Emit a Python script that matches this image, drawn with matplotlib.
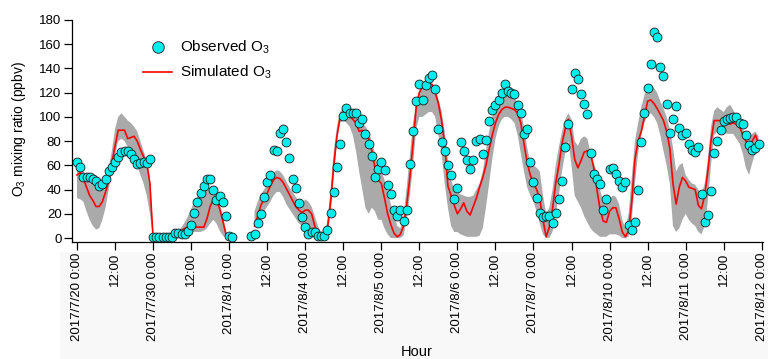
import numpy as np
import matplotlib
matplotlib.use("Agg")
import matplotlib.pyplot as plt
from matplotlib.patches import Rectangle

plt.rcParams['font.family'] = ['Liberation Sans', 'DejaVu Sans']
plt.rcParams['mathtext.default'] = 'regular'

nan = np.nan
days = ['2017/7/20', '2017/7/30', '2017/8/1', '2017/8/4', '2017/8/5',
        '2017/8/6', '2017/8/7', '2017/8/10', '2017/8/11', '2017/8/12']

obs_d0 = [63,59,50,50,50,49,47,43,45,49,55,59,63,67,71,72,72,69,65,61,62,63,62,65]
obs_d1 = [1,1,1,1,1,1,1,4,4,3,3,6,11,21,30,37,43,49,49,40,31,35,30,18]
obs_d2 = [2,1,nan,nan,nan,nan,nan,1.5,3,12,20,34,46,52,73,72,87,90,79,66,49,41,29,17]
obs_d3 = [9,3,5,5,2,2,2,7,21,38,59,78,101,107,103,103,103,95,98,86,78,68,50,57]
obs_d4 = [63,56,44,36,23,18,23,14,23,61,88,113,127,114,126,132,135,123,90,79,72,60,52,32]
obs_d5 = [41,79,72,64,57,64,80,82,69,81,97,106,110,114,120,127,121,120,119,110,103,86,90,63]
obs_d6 = [46,33,21,17,18,18,12,21,32,47,75,94,123,136,131,119,111,102,70,53,49,45,23,32]
obs_d7 = [57,58,53,47,42,46,11,7,13,40,79,103,124,144,170,166,141,134,111,87,98,109,91,85]
obs_d8 = [87,78,73,71,75,36,13,19,39,70,80,89,97,98,99,100,100,95,94,85,77,73,74,78]

sim_d0 = [52,54,49,42,35,31,26,26,30,38,47,62,76,89,89,89,82,83,84,80,73,67,62,45]
sim_d1 = [0,0,0,1,1,1,2,3,4,6,8,9,9,9,9,9,9,16,26,32,32,24,14,3]
sim_d2 = [nan]*8 + [10,18,27,32,37,43,48,50,49,46,41,36,31,26,23,21]
sim_d3 = [23,23,20,10,3,0.5,1,8,30,60,84,100,104,103,101,98,95,88,89,87,82,72,58,48]
sim_d4 = [45,33,20,11,4,1,3,10,27,50,78,108,120,125,126,127,127,120,111,97,77,43,35,27]
sim_d5 = [20,24,29,22,19,26,33,42,50,60,73,85,95,102,106,108,108,107,106,103,95,78,62,52]
sim_d6 = [45,40,32,15,1,9,24,45,60,78,90,98,84,65,58,64,71,72,70,58,40,24,14,13]
sim_d7 = [22,25,25,16,5,1,6,30,65,80,88,100,113,114,111,107,102,97,88,74,45,28,42,50]
sim_d8 = [47,42,41,40,27,24,35,55,80,97,97,97,96,95,94,95,94,92,85,80,77,80,85,78]

lo_d0 = [33,32,30,22,15,10,7,8,15,25,40,55,68,80,82,80,75,70,65,60,52,45,35,20]
hi_d0 = [55,58,55,50,45,44,44,44,45,50,58,72,90,100,103,100,97,95,92,88,80,72,64,50]
lo_d1 = [0,0,0,0,0,0,0,0,1,2,3,4,5,5,5,5,6,8,12,15,12,6,2,0]
hi_d1 = [3,1,1,1,2,2,3,4,6,9,13,18,24,30,34,38,40,40,40,42,40,30,18,6]
lo_d2 = [nan]*8 + [8,12,18,22,26,30,35,38,38,34,28,24,20,16,12,10]
hi_d2 = [nan]*8 + [22,30,36,40,44,48,54,56,55,52,47,42,38,34,30,28]
lo_d3 = [12,10,6,2,0,0,0,2,20,50,80,95,97,95,92,85,72,55,40,25,20,25,22,15]
hi_d3 = [32,30,26,18,10,4,4,14,40,72,92,104,108,107,105,103,100,97,95,92,88,80,70,58]
lo_d4 = [15,8,3,0,0,0,0,2,15,35,60,90,100,100,102,104,104,100,85,70,45,25,10,5]
hi_d4 = [56,48,38,28,20,10,8,18,42,68,95,112,122,127,128,128,127,124,115,105,88,65,48,40]
lo_d5 = [5,3,2,1,1,1,1,2,8,25,45,65,82,92,98,100,100,98,95,85,70,55,42,35]
hi_d5 = [38,36,35,34,34,35,40,45,55,72,88,100,110,115,118,120,120,118,116,112,105,92,75,62]
lo_d6 = [30,22,12,3,0,0,5,20,35,55,70,80,60,35,30,25,18,13,8,5,3,1,1,1]
hi_d6 = [60,58,55,35,20,25,40,60,75,88,98,103,98,80,76,82,84,82,70,62,55,40,30,28]
lo_d7 = [3,3,3,2,0,0,1,15,45,70,85,95,102,103,100,95,85,72,60,45,10,5,8,15]
hi_d7 = [32,35,34,28,15,8,20,50,80,95,108,118,125,126,124,120,113,107,100,90,75,55,60,62]
lo_d8 = [20,15,12,10,5,3,10,30,60,85,88,88,88,86,86,86,82,78,70,58,52,62,70,72]
hi_d8 = [52,48,45,44,40,36,45,65,92,105,108,106,104,108,110,106,100,95,90,86,84,86,88,84]

obs = np.array(obs_d0+obs_d1+obs_d2+obs_d3+obs_d4+obs_d5+obs_d6+obs_d7+obs_d8, float)
sim = np.array(sim_d0+sim_d1+sim_d2+sim_d3+sim_d4+sim_d5+sim_d6+sim_d7+sim_d8, float)
lo = np.array(lo_d0+lo_d1+lo_d2+lo_d3+lo_d4+lo_d5+lo_d6+lo_d7+lo_d8, float)
hi = np.array(hi_d0+hi_d1+hi_d2+hi_d3+hi_d4+hi_d5+hi_d6+hi_d7+hi_d8, float)
hours = np.arange(len(obs))

W, H = 768, 359
fig = plt.figure(figsize=(W/100, H/100), dpi=100)
bg = Rectangle((60/W, 0), 1, 1-252/H, transform=fig.transFigure,
               facecolor='#f8f8f8', edgecolor='none', zorder=-5)
fig.add_artist(bg)
ax = fig.add_axes([72/W, 1-242/H, 691/W, 222/H])
ax.set_zorder(1)
ax.patch.set_alpha(0)

valid = ~np.isnan(lo)
ax.fill_between(hours, np.nan_to_num(lo), np.nan_to_num(hi), where=valid,
                color='#aaaaaa', lw=0, zorder=1)
ax.plot(hours, sim, color='#ff0000', lw=1.2, zorder=2, label='Simulated O$_3$')
ax.plot(hours, obs, 'o', ms=6.4, mfc='#00eded', mec='#1a1a1a', mew=0.6,
        zorder=3, label='Observed O$_3$', clip_on=False)

ax.set_xlim(-1.58, 216.4)
ax.set_ylim(-3.3, 180)
ax.set_yticks(np.arange(0, 181, 20))

ticks = []
labels = []
for i, d in enumerate(days):
    ticks.append(i*24)
    labels.append(d + ' 0:00')
    if i < len(days)-1:
        ticks.append(i*24+12)
        labels.append('12:00')
ax.set_xticks(ticks)
ax.set_xticklabels(labels, rotation=90, va='top', ha='center')

for s in ['top', 'right']:
    ax.spines[s].set_visible(False)
for s in ['left', 'bottom']:
    ax.spines[s].set_linewidth(0.9)
ax.tick_params(axis='both', direction='out', length=5.5, width=0.9,
               labelsize=9.5, pad=2)

fig.text(19/W, 1-129/H, 'O$_3$ mixing ratio (ppbv)', rotation=90,
         ha='center', va='center', fontsize=10)
fig.text(417/W, 1-345/H, 'Hour', ha='center', va='top', fontsize=10.5)

h, l = ax.get_legend_handles_labels()
leg = fig.legend([h[1], h[0]], [l[1], l[0]], loc='upper left',
                 bbox_to_anchor=(143/W, 1-39/H), frameon=False, fontsize=11,
                 handlelength=1.9, handletextpad=0.5, labelspacing=0.5,
                 borderpad=0, borderaxespad=0, markerscale=1.3)

fig.savefig('out.png', dpi=100)
